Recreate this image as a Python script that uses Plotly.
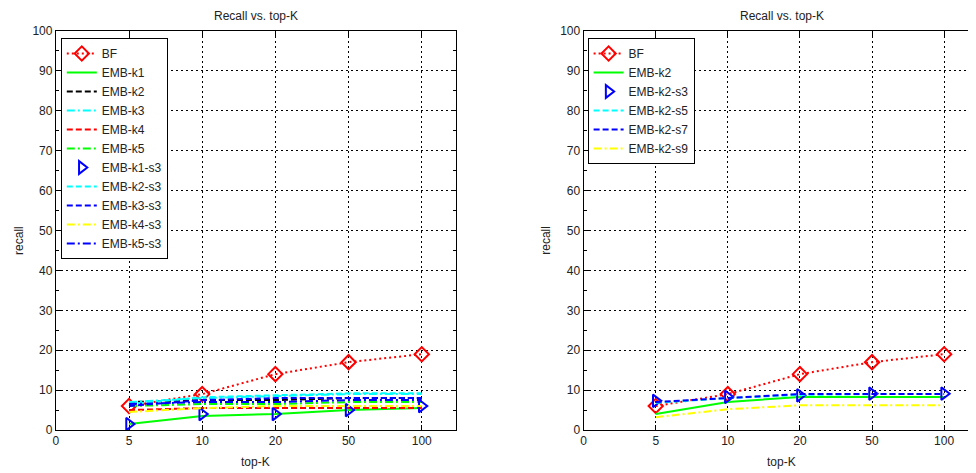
import plotly.graph_objects as go

# ---------------- data ----------------
tick_labels = ["0", "5", "10", "20", "50", "100"]
topk = [5, 10, 20, 50, 100]

# left panel
left_names = ["BF", "EMB-k1", "EMB-k2", "EMB-k3", "EMB-k4", "EMB-k5",
              "EMB-k1-s3", "EMB-k2-s3", "EMB-k3-s3", "EMB-k4-s3", "EMB-k5-s3"]
bf = [6, 9, 14, 17, 19]
emb_k1 = [1.5, 3.5, 4, 5, 5.5]
emb_k2 = [7, 7.5, 7.5, 8, 8]
emb_k3 = [7, 8, 8.5, 9, 9]
emb_k4 = [5, 5.5, 5.5, 5.5, 5.5]
emb_k5 = [6, 6.5, 6.5, 7, 7]
emb_k1_s3 = [1.5, 4, 4, 5, 6]
emb_k2_s3 = [6.5, 8.2, 8.7, 9.2, 9.2]
emb_k3_s3 = [6, 7.5, 8, 8, 8]
emb_k4_s3 = [4.5, 5.5, 6, 6, 6]
emb_k5_s3 = [6.5, 7, 7, 7.5, 7.5]

# right panel
right_names = ["BF", "EMB-k2", "EMB-k2-s3", "EMB-k2-s5", "EMB-k2-s7", "EMB-k2-s9"]
r_bf = [6, 9, 14, 17, 19]
r_emb_k2 = [4, 7, 8.3, 8.3, 8.3]
r_emb_k2_s3 = [7.3, 8.3, 8.7, 9.1, 9.1]
r_emb_k2_s5 = [6.8, 8, 8.8, 9, 9]
r_emb_k2_s7 = [7, 8, 9, 9, 9]
r_emb_k2_s9 = [3.2, 5.2, 6.2, 6.2, 6.2]

xpos = [tick_labels.index(str(k)) for k in topk]

RED, GREEN, BLACK, CYAN, BLUE, YELLOW = "#ff0000", "#00ff00", "#000000", "#00ffff", "#0000ff", "#ffff00"
DOT, DASH, DASHDOT = "2px,3px", "6px,3px", "8px,3px,2px,3px"

fig = go.Figure()

def add(name, y, color, dash, xa, ya, leg, mode="lines", marker=None):
    kw = dict(x=xpos, y=y, name=name, mode=mode, xaxis=xa, yaxis=ya, legend=leg)
    if "lines" in mode:
        kw["line"] = dict(color=color, width=2, dash=dash)
    if marker:
        kw["marker"] = marker
    fig.add_trace(go.Scatter(**kw))

diamond = dict(symbol="diamond-open", size=11, color=RED, line=dict(width=2, color=RED))
tri = dict(symbol="triangle-right-open", size=11, color=BLUE, line=dict(width=2, color=BLUE))

left_series = [bf, emb_k1, emb_k2, emb_k3, emb_k4, emb_k5,
               emb_k1_s3, emb_k2_s3, emb_k3_s3, emb_k4_s3, emb_k5_s3]
left_style = [(RED, DOT, "lines+markers", diamond),
              (GREEN, "solid", "lines", None),
              (BLACK, DASH, "lines", None),
              (CYAN, DASHDOT, "lines", None),
              (RED, DASH, "lines", None),
              (GREEN, DASHDOT, "lines", None),
              (BLUE, None, "markers", tri),
              (CYAN, DASH, "lines", None),
              (BLUE, DASH, "lines", None),
              (YELLOW, DASHDOT, "lines", None),
              (BLUE, DASHDOT, "lines", None)]
for n, s, (c, d, m, mk) in zip(left_names, left_series, left_style):
    add(n, s, c, d, "x", "y", "legend", m, mk)

right_series = [r_bf, r_emb_k2, r_emb_k2_s3, r_emb_k2_s5, r_emb_k2_s7, r_emb_k2_s9]
right_style = [(RED, DOT, "lines+markers", diamond),
               (GREEN, "solid", "lines", None),
               (BLUE, None, "markers", tri),
               (CYAN, DASH, "lines", None),
               (BLUE, DASH, "lines", None),
               (YELLOW, DASHDOT, "lines", None)]
for n, s, (c, d, m, mk) in zip(right_names, right_series, right_style):
    add(n, s, c, d, "x2", "y2", "legend2", m, mk)

OFF = 8  # page body offset
W, H = 976 - OFF, 473 - OFF
PT, PB = 31, 430  # plot top / bottom in reference pixels
T = PT - OFF
B = H - (PB - OFF)
FONT = "Liberation Sans, Arial, sans-serif"
TXT = "#222222"

def px(xr):
    return (xr - OFF) / W

def py(yr):
    return (PB - yr) / (PB - PT)

def xaxis(domain, rng):
    return dict(domain=domain, range=rng, tickvals=list(range(len(tick_labels))),
                ticktext=tick_labels, ticks="inside", ticklen=5, tickcolor="black",
                showline=True, linecolor="black", linewidth=1, mirror="ticks",
                showgrid=True, gridcolor="black", gridwidth=1, griddash="2px,3px",
                zeroline=False, tickfont=dict(size=12, color=TXT, family=FONT))

def yaxis(anchor):
    return dict(anchor=anchor, range=[0, 100], dtick=10, ticks="inside", ticklen=5,
                tickcolor="black", showline=True, linecolor="black", linewidth=1,
                mirror="ticks", showgrid=True, gridcolor="black", gridwidth=1,
                griddash="2px,3px", zeroline=False,
                minor=dict(dtick=5, ticks="inside", ticklen=3, tickcolor="black", showgrid=False),
                tickfont=dict(size=12, color=TXT, family=FONT))

xl0, xl1 = 53, 455
xr0 = 583
fig.update_layout(
    width=W, height=H, margin=dict(l=0, r=0, t=T, b=B),
    paper_bgcolor="white", plot_bgcolor="white",
    font=dict(family=FONT, size=12, color=TXT),
    xaxis=xaxis([px(xl0), px(xl1)], [0, 5.47]),
    yaxis=yaxis("x"),
    xaxis2=xaxis([px(xr0), 1.0], [0, (976 - xr0) / 72.4]),
    yaxis2=yaxis("x2"),
    legend=dict(x=px(58), y=py(38), xanchor="left", yanchor="top",
                bordercolor="black", borderwidth=1, bgcolor="white",
                font=dict(size=12, color=TXT, family=FONT), tracegroupgap=0),
    legend2=dict(x=px(587), y=py(38), xanchor="left", yanchor="top",
                 bordercolor="black", borderwidth=1, bgcolor="white",
                 font=dict(size=12, color=TXT, family=FONT), tracegroupgap=0),
    showlegend=True,
)

ann = [
    dict(text="Recall vs. top-K", x=254, y=16),
    dict(text="Recall vs. top-K", x=782, y=16),
    dict(text="top-K", x=254, y=462),
    dict(text="top-K", x=782, y=462),
    dict(text="recall", x=16, y=240, textangle=-90),
    dict(text="recall", x=545, y=240, textangle=-90),
]
for a in ann:
    a["x"] = px(a["x"])
    a["y"] = py(a["y"])
    a.update(xref="paper", yref="paper", showarrow=False, xanchor="center", yanchor="middle",
             font=dict(size=12, color=TXT, family=FONT))
    fig.add_annotation(**a)

fig.write_html("out.html")
